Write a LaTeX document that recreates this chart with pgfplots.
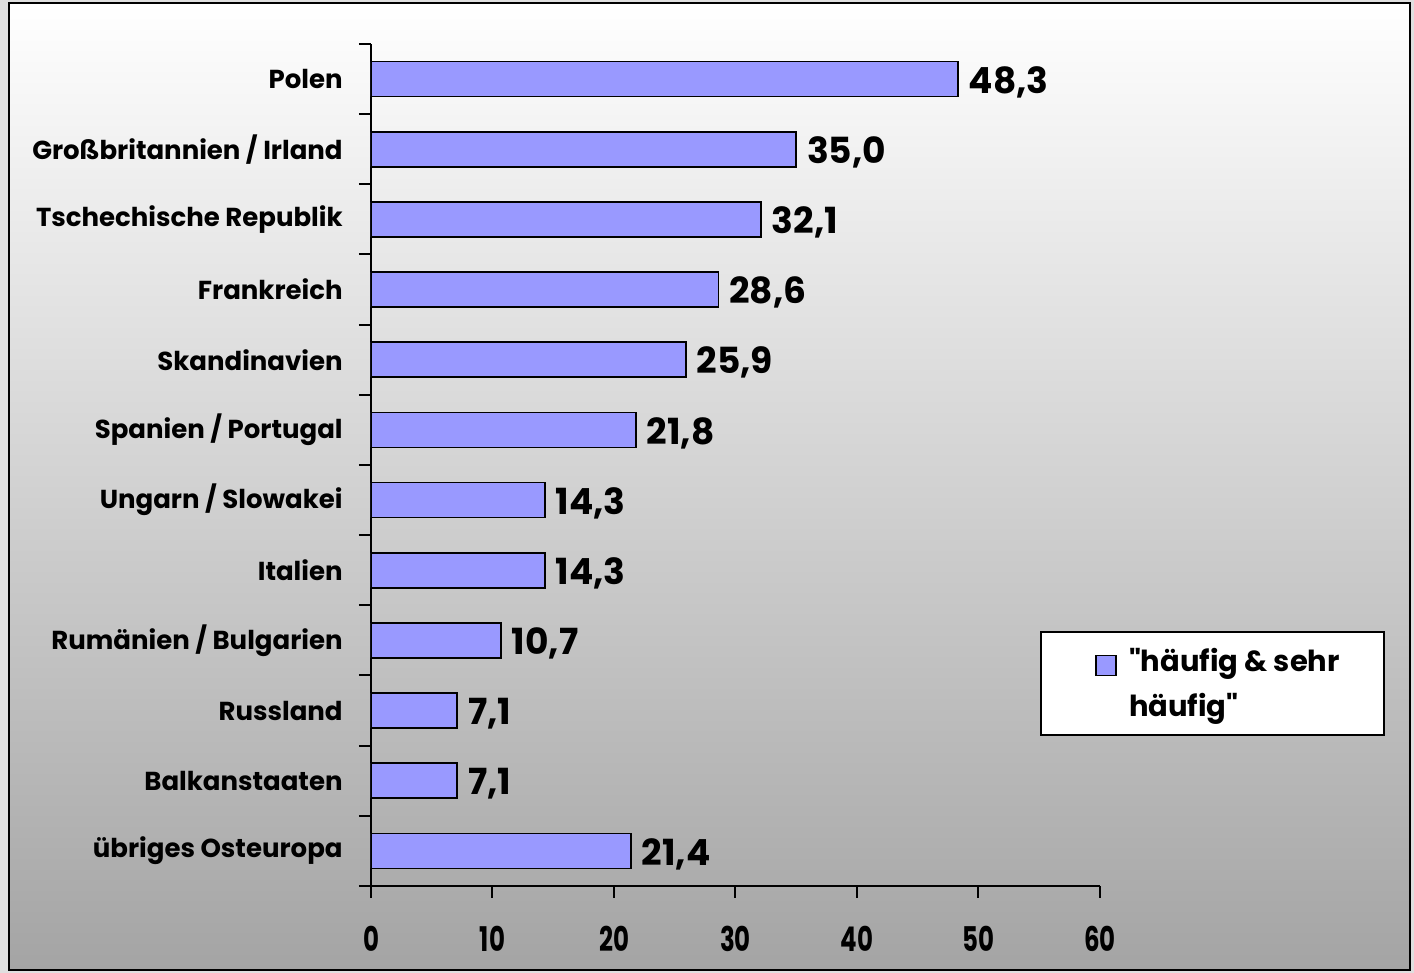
\documentclass[border=0pt]{standalone}
\usepackage{fontspec}
\setmainfont{Poppins}[Ligatures=TeXOff]
\newfontfamily\narrowfont[FakeStretch=0.72]{Poppins}
\usepackage{pgfplots}
\pgfplotsset{compat=1.18}
\definecolor{barblue}{RGB}{153,153,255}
\definecolor{bgbottom}{RGB}{164,164,164}
\begin{document}
\begin{tikzpicture}
% background: light frame, gradient panel, black border
\fill[gray!25] (-185.5pt,-43.5pt) rectangle (521.5pt,443pt);
\shade[top color=white,bottom color=bgbottom] (-181pt,-42pt) rectangle (519.5pt,441.5pt);
\draw[line width=1.3pt] (-181pt,-42pt) rectangle (519.5pt,441.5pt);
\begin{axis}[
  at={(0,0)}, anchor=south west,
  scale only axis, width=364.5pt, height=421pt,
  xbar, bar width=17.5pt,
  xmin=0, xmax=60, ymin=-0.5, ymax=11.5,
  axis x line*=bottom, axis y line*=left,
  axis line style={-, line width=1pt},
  /pgf/number format/assume math mode=true,
  tick align=outside, major tick length=6pt,
  tick style={black, line width=1pt},
  xtick={0,10,...,60},
  xticklabel style={font=\narrowfont\bfseries\fontsize{17}{17}\selectfont, inner sep=0pt, anchor=north, yshift=-14pt},
  ytick={-0.5,0.5,...,11.5}, yticklabels={},
  extra y ticks={0,...,11},
  extra y tick style={major tick length=0pt},
  extra y tick labels={übriges Osteuropa, Balkanstaaten, Russland, Rumänien / Bulgarien, Italien, Ungarn / Slowakei, Spanien / Portugal, Skandinavien, Frankreich, Tschechische Republik, Großbritannien / Irland, Polen},
  yticklabel style={font=\bfseries\fontsize{13}{14}\selectfont, inner sep=0pt, anchor=east, xshift=-14pt},
  nodes near coords,
  nodes near coords align={horizontal},
  every node near coord/.append style={font=\bfseries\fontsize{18}{18}\selectfont, black, inner sep=0pt, xshift=5pt, yshift=-1.5pt,
    /pgf/number format/.cd, fixed, fixed zerofill, precision=1, use comma},
  legend style={at={(0.918,0.303)}, anchor=north west, draw=black, line width=1pt, fill=white,
    font=\bfseries\fontsize{14.5}{22.5}\selectfont, cells={align=left, anchor=west}, inner xsep=20pt, inner ysep=6pt},
  legend image code/.code={\path (0pt,0pt) (21pt,0pt); \draw[fill=barblue,draw=black,line width=0.8pt] (7pt,4pt) rectangle (17pt,14pt);},
]
\addplot[fill=barblue, draw=black, line width=0.9pt] coordinates {
  (21.4,0) (7.1,1) (7.1,2) (10.7,3) (14.3,4) (14.3,5)
  (21.8,6) (25.9,7) (28.6,8) (32.1,9) (35.0,10) (48.3,11)
};
\legend{"häufig \& sehr\\häufig"}
\end{axis}
\end{tikzpicture}
\end{document}
